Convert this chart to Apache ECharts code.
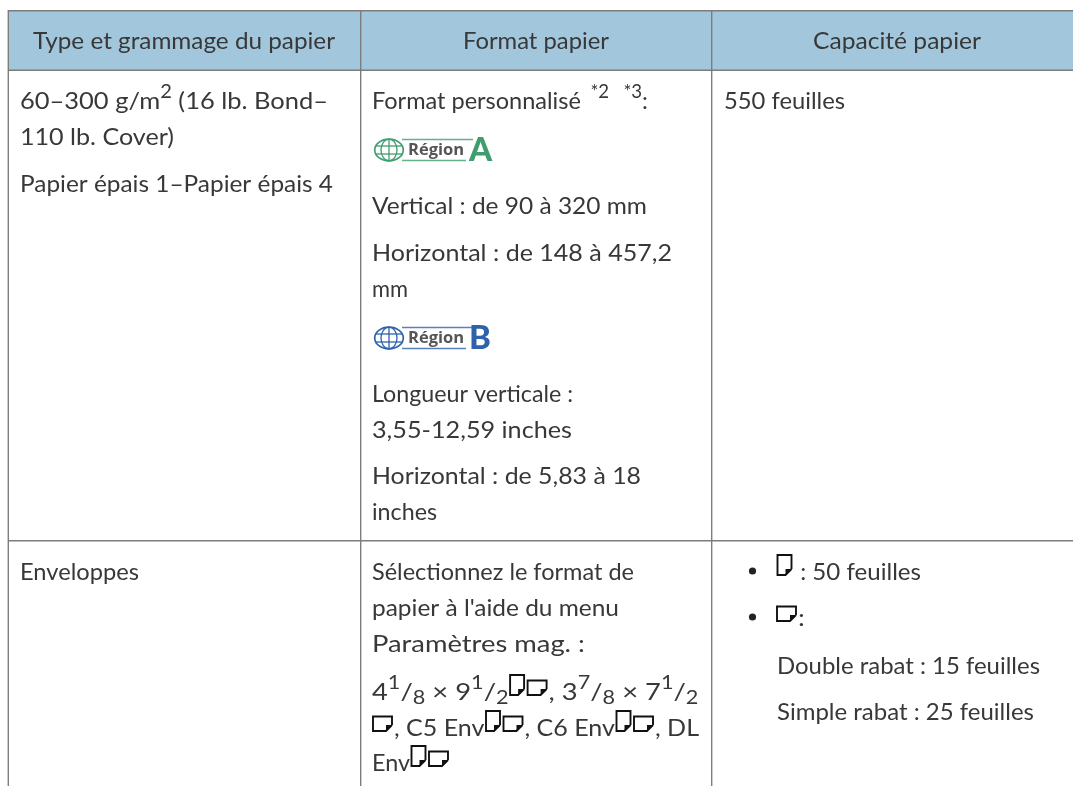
<!DOCTYPE html>
<html><head><meta charset="utf-8">
<style>html,body{margin:0;padding:0;background:#fff}#c{width:1073px;height:786px}</style>
<script src="https://cdn.jsdelivr.net/npm/echarts@6/dist/echarts.min.js"></script>
</head><body><div id="c"></div>
<script>
// Table content
const headers = ['Type et grammage du papier', 'Format papier', 'Capacité papier'];
const col1Lines = [['60–300 g/m', '^2', ' (16 lb. Bond–'], ['110 lb. Cover)'], ['Papier épais 1–Papier épais 4'], ['Enveloppes']];
const col2Lines = [
  ['Format personnalisé', '^  *2   *3', ':'],
  ['Vertical : de 90 à 320 mm'],
  ['Horizontal : de 148 à 457,2'],
  ['mm'],
  ['Longueur verticale :'],
  ['3,55-12,59 inches'],
  ['Horizontal : de 5,83 à 18'],
  ['inches'],
  ['Sélectionnez le format de'],
  ['papier à l\'aide du menu'],
  ['Paramètres mag. :'],
  ['4', '^1', '/', '_8', ' × 9', '^1', '/', '_2', '#P', '#L', ', 3', '^7', '/', '_8', ' × 7', '^1', '/', '_2'],
  ['#L', ', C5 Env', '#P', '#L', ', C6 Env', '#P', '#L', ', DL'],
  ['Env', '#P', '#L']
];
const col3Lines = [['550 feuilles'], ['#P', ' : 50 feuilles'], ['#L', ':'], ['Double rabat : 15 feuilles'], ['Simple rabat : 25 feuilles']];
const regions = [['Région', 'A', '#3f9e6e'], ['Région', 'B', '#2f62ad']];

// Layout
const FONT = 'Lato';
const WEIGHT = 'normal';
const SIZE = 24, SUB = 19;
const INK = '#383838', RULE = '#7d7d7d', HEAD = '#a2c7dc';
const col1Y = [101, 137, 184, 572];
const col1Right = [328, 174, 333, 139];
const col2Y = [101, 206, 253, 289, 394, 430, 476, 512, 572, 608, 644, 692, 728, 763];
const col2Right = [648, 647, 672, 408, 573, 572, 641, 437, 634, 619, 585, 699, 699, 450];
const col3Pos = [[724, 101], [776, 572], [776, 618], [777, 666], [777, 712]];
const col3Right = [845, 921, 806, 1040, 1034];
const headerSpan = [[33, 335], [463, 609], [813, 981]];
const bullets = [571, 617];
const regionY = [150, 338];

const ctx = document.createElement('canvas').getContext('2d');
const width = (s, size) => { ctx.font = WEIGHT + ' ' + size + 'px ' + FONT; return ctx.measureText(s).width; };
const g = [];
const text = (s, x, y, size, o, k) => g.push({type: 'text', z: 5, x, y, scaleX: k || 1, style: Object.assign(
  {text: s, fill: INK, font: WEIGHT + ' ' + size + 'px ' + FONT, verticalAlign: 'middle', align: 'left'}, o || {})});
const rect = (x, y, w, h, fill) => g.push({type: 'rect', z: 1, shape: {x, y, width: w, height: h}, style: {fill}});

function paper(x, y, w, h) {
  const f = 6;
  g.push({type: 'polyline', z: 6, shape: {points: [[x + w, y + h - f], [x + w, y], [x, y], [x, y + h], [x + w - f, y + h], [x + w, y + h - f]]},
    style: {stroke: '#111', lineWidth: 1.9, fill: '#fff'}});
  g.push({type: 'polygon', z: 7, shape: {points: [[x + w, y + h - f], [x + w - f, y + h - f], [x + w - f, y + h]]}, style: {fill: '#111'}});
}
const iconW = {'#P': 18, '#L': 22};
const runW = r => r[0] === '#' ? 0 : (r[0] === '^' || r[0] === '_') ? width(r.slice(1), SUB) : width(r, SIZE);
function flow(runs, x0, y, right) {
  const fixed = runs.reduce((a, r) => a + (iconW[r] || 0), 0);
  const natural = runs.reduce((a, r) => a + runW(r), 0);
  const k = Math.min(1.14, Math.max(0.88, (right - x0 - fixed) / natural));
  let x = x0;
  runs.forEach(r => {
    if (r === '#P') { paper(x + 1.5, y - 17, 14, 20); x += iconW[r]; }
    else if (r === '#L') { paper(x + 1, y - 11.5, 19, 14.5); x += iconW[r]; }
    else if (r[0] === '^') { text(r.slice(1), x, y - 9, SUB, null, k); x += runW(r) * k; }
    else if (r[0] === '_') { text(r.slice(1), x, y + 6, SUB, null, k); x += runW(r) * k; }
    else { text(r, x, y, SIZE, null, k); x += runW(r) * k; }
  });
}
function globeBadge(y, label, letter, color) {
  const cx = 389;
  const s = {stroke: color, fill: 'none', lineWidth: 1.3};
  g.push({type: 'ellipse', z: 4, shape: {cx, cy: y, rx: 14.3, ry: 10.8}, style: Object.assign({}, s, {lineWidth: 1.7})});
  g.push({type: 'ellipse', z: 4, shape: {cx, cy: y, rx: 8, ry: 10.8}, style: s});
  g.push({type: 'line', z: 4, shape: {x1: cx, y1: y - 10.8, x2: cx, y2: y + 10.8}, style: s});
  [-4, 4].forEach(d => g.push({type: 'line', z: 4, shape: {x1: cx - 13, y1: y + d, x2: cx + 13, y2: y + d}, style: s}));
  g.push({type: 'line', z: 4, shape: {x1: 402, y1: y - 10.5, x2: 473, y2: y - 10.5}, style: {stroke: color, lineWidth: 1.6, opacity: 0.8}});
  g.push({type: 'line', z: 4, shape: {x1: 402, y1: y + 10.5, x2: 466, y2: y + 10.5}, style: {stroke: color, lineWidth: 1.6, opacity: 0.8}});
  text(label, 408, y, 16.5, {fill: '#555', font: 'bold 16.5px "Open Sans"'});
  text(letter, 469, y + 0.5, 33, {fill: color, font: '900 33px ' + FONT});
}

const W = 1073, H = 786;
rect(8, 10, W - 8, 60, HEAD);
[[8, 10, W - 8, 1.6], [8, 69.4, W - 8, 1.6], [8, 540, W - 8, 1.6], [7.6, 10, 1.4, H - 10], [360, 10, 1.4, H - 10], [711, 10, 1.4, H - 10]]
  .forEach(r => rect(r[0], r[1], r[2], r[3], RULE));
headers.forEach((h, i) => flow([h], headerSpan[i][0], 41, headerSpan[i][1]));
col1Lines.forEach((l, i) => flow(l, 20, col1Y[i], col1Right[i]));
col2Lines.forEach((l, i) => flow(l, 372, col2Y[i], col2Right[i]));
col3Lines.forEach((l, i) => flow(l, col3Pos[i][0], col3Pos[i][1], col3Right[i]));
bullets.forEach(y => g.push({type: 'circle', z: 5, shape: {cx: 752.5, cy: y, r: 3.6}, style: {fill: '#222'}}));
regions.forEach((r, i) => globeBadge(regionY[i], r[0], r[1], r[2]));

const chart = echarts.init(document.getElementById('c'), null, {renderer: 'canvas'});
chart.setOption({animation: false, backgroundColor: '#fff', graphic: {elements: g}});
</script></body></html>
